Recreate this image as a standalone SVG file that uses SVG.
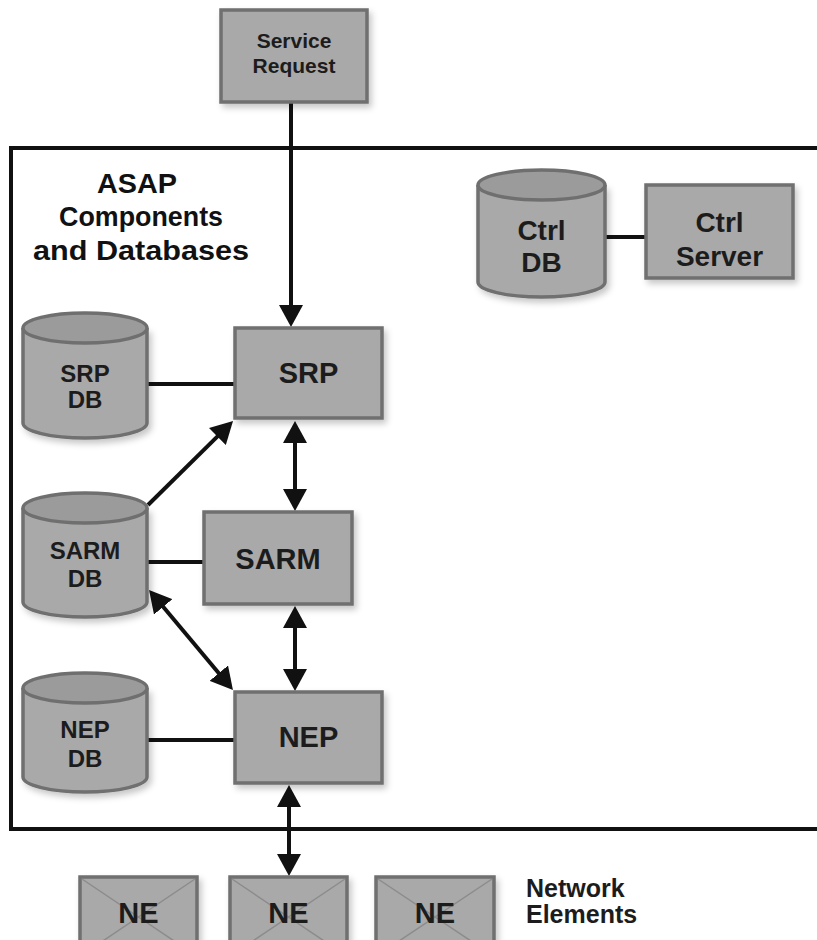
<svg xmlns="http://www.w3.org/2000/svg" width="817" height="940" viewBox="0 0 817 940">
<style>
.box{fill:#a9a9a9;stroke:#6f6f6f;stroke-width:3.5}
.cyl{fill:#a9a9a9;stroke:#6f6f6f;stroke-width:3.5}
.cap{fill:#9b9b9b;stroke:#6f6f6f;stroke-width:3.5}
.x{stroke:#8c8c8c;stroke-width:1.5;fill:none}
.t{font-family:"Liberation Sans",Arial,sans-serif;font-weight:bold;fill:#1c1c1c;text-anchor:middle}
.lbl{font-family:"Liberation Sans",Arial,sans-serif;font-weight:bold;fill:#111;text-anchor:middle}
.ln{stroke:#111;stroke-width:4;fill:none}
</style>
<defs>
<filter id="sh" x="-20%" y="-20%" width="150%" height="150%">
<feDropShadow dx="3" dy="4" stdDeviation="3" flood-color="#000" flood-opacity="0.22"/>
</filter>
<marker id="ah" viewBox="0 0 22 24" markerWidth="22" markerHeight="24" markerUnits="userSpaceOnUse" refX="2" refY="12" orient="auto-start-reverse">
<path d="M0,0 L22,12 L0,24 z" fill="#111"/>
</marker>
</defs>
<rect width="817" height="940" fill="#fff"/>

<g id="frame">
<rect x="11" y="148" width="900" height="681" fill="none" stroke="#111" stroke-width="4"/>
<text class="lbl" font-size="28"><tspan x="137" y="193" textLength="80" lengthAdjust="spacingAndGlyphs">ASAP</tspan><tspan x="141" y="226" textLength="164" lengthAdjust="spacingAndGlyphs">Components</tspan><tspan x="141" y="260" textLength="216" lengthAdjust="spacingAndGlyphs">and Databases</tspan></text>
</g>

<g id="connectors">
<line class="ln" x1="605" y1="237" x2="646" y2="237"/>
<line class="ln" x1="147" y1="384" x2="235" y2="384"/>
<line class="ln" x1="147" y1="562" x2="204" y2="562"/>
<line class="ln" x1="147" y1="740" x2="235" y2="740"/>
<line class="ln" x1="291" y1="103" x2="291" y2="307" marker-end="url(#ah)"/>
<line class="ln" x1="295" y1="441" x2="295" y2="491" marker-start="url(#ah)" marker-end="url(#ah)"/>
<line class="ln" x1="295" y1="626" x2="295" y2="671" marker-start="url(#ah)" marker-end="url(#ah)"/>
<line class="ln" x1="148" y1="505" x2="218.8" y2="435.1" marker-end="url(#ah)"/>
<line class="ln" x1="161.9" y1="605.3" x2="220.1" y2="674.7" marker-start="url(#ah)" marker-end="url(#ah)"/>
<line class="ln" x1="289" y1="805" x2="289" y2="856" marker-start="url(#ah)" marker-end="url(#ah)"/>
</g>

<g id="service-request">
<rect class="box" x="221" y="10" width="146" height="92" filter="url(#sh)"/>
<text class="t" font-size="21"><tspan x="294" y="48">Service</tspan><tspan x="294" y="73">Request</tspan></text>
</g>

<g id="ctrl-db">
<path class="cyl" d="M478,185 V282 A63.5,15 0 0 0 605,282 V185" filter="url(#sh)"/>
<ellipse class="cap" cx="541.5" cy="185" rx="63.5" ry="15"/>
<text class="t" font-size="28"><tspan x="541.5" y="240">Ctrl</tspan><tspan x="541.5" y="272">DB</tspan></text>
</g>

<g id="ctrl-server">
<rect class="box" x="646" y="185" width="147" height="93" filter="url(#sh)"/>
<text class="t" font-size="28"><tspan x="719.5" y="232">Ctrl</tspan><tspan x="719.5" y="266">Server</tspan></text>
</g>

<g id="srp-db">
<path class="cyl" d="M23,328 V423 A62,15 0 0 0 147,423 V328" filter="url(#sh)"/>
<ellipse class="cap" cx="85" cy="328" rx="62" ry="15"/>
<text class="t" font-size="24"><tspan x="85" y="382">SRP</tspan><tspan x="85" y="408">DB</tspan></text>
</g>

<g id="srp">
<rect class="box" x="235" y="328" width="147" height="90" filter="url(#sh)"/>
<text class="t" font-size="29" x="308.5" y="383">SRP</text>
</g>

<g id="sarm-db">
<path class="cyl" d="M23,508 V602 A62,15 0 0 0 147,602 V508" filter="url(#sh)"/>
<ellipse class="cap" cx="85" cy="508" rx="62" ry="15"/>
<text class="t" font-size="24"><tspan x="85" y="559">SARM</tspan><tspan x="85" y="587">DB</tspan></text>
</g>

<g id="sarm">
<rect class="box" x="204" y="512" width="148" height="92" filter="url(#sh)"/>
<text class="t" font-size="29" x="278" y="569">SARM</text>
</g>

<g id="nep-db">
<path class="cyl" d="M23,688 V777 A62,15 0 0 0 147,777 V688" filter="url(#sh)"/>
<ellipse class="cap" cx="85" cy="688" rx="62" ry="15"/>
<text class="t" font-size="24"><tspan x="85" y="738">NEP</tspan><tspan x="85" y="767">DB</tspan></text>
</g>

<g id="nep">
<rect class="box" x="235" y="692" width="147" height="91" filter="url(#sh)"/>
<text class="t" font-size="29" x="308.5" y="747">NEP</text>
</g>

<g id="ne-1">
<rect class="box" x="80" y="877" width="117" height="80" filter="url(#sh)"/>
<path class="x" d="M82,879 L195,955 M195,879 L82,955"/>
<text class="t" font-size="29" x="138.5" y="923">NE</text>
</g>
<g id="ne-2">
<rect class="box" x="230" y="877" width="117" height="80" filter="url(#sh)"/>
<path class="x" d="M232,879 L345,955 M345,879 L232,955"/>
<text class="t" font-size="29" x="288.5" y="923">NE</text>
</g>
<g id="ne-3">
<rect class="box" x="376" y="877" width="118" height="80" filter="url(#sh)"/>
<path class="x" d="M378,879 L492,955 M492,879 L378,955"/>
<text class="t" font-size="29" x="435" y="923">NE</text>
</g>

<g id="network-elements-label">
<text class="t" font-size="25" style="text-anchor:start"><tspan x="526" y="897">Network</tspan><tspan x="526" y="923">Elements</tspan></text>
</g>
</svg>
